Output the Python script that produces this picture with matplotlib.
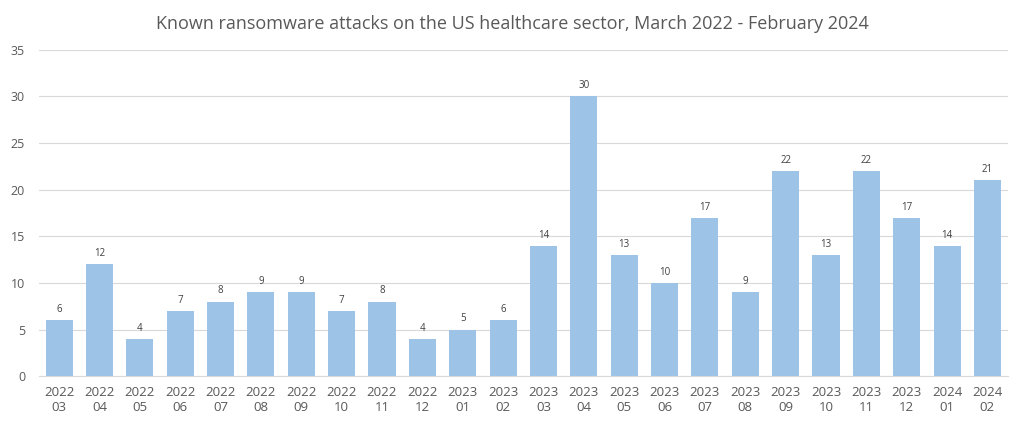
import matplotlib.pyplot as plt

# monthly counts
years = ['2022'] * 10 + ['2023'] * 12 + ['2024'] * 2
months = ['03', '04', '05', '06', '07', '08', '09', '10', '11', '12',
          '01', '02', '03', '04', '05', '06', '07', '08', '09', '10', '11', '12',
          '01', '02']
attacks = [6, 12, 4, 7, 8, 9, 9, 7, 8, 4, 5, 6, 14, 30, 13, 10, 17, 9, 22, 13, 22, 17, 14, 21]

labels = [y + '\n' + m for y, m in zip(years, months)]

plt.rcParams['font.family'] = ['Open Sans', 'DejaVu Sans']

fig = plt.figure(figsize=(10.24, 4.26), dpi=100)
ax = fig.add_axes([0.038, 0.117, 0.946, 0.766])

x = range(len(attacks))
bars = ax.bar(x, attacks, width=0.67, color='#9DC3E6', zorder=2)
for i, v in zip(x, attacks):
    ax.text(i, v + 0.55, str(v), ha='center', va='bottom', fontsize=7, color='#404040')

ax.set_ylim(0, 35)
ax.set_xlim(-0.5, len(attacks) - 0.5)
ax.set_yticks(range(0, 36, 5))
ax.set_xticks(list(x))
ax.set_xticklabels(labels, fontsize=9.5, color='#595959', linespacing=1.25)
ax.tick_params(axis='y', labelsize=9, labelcolor='#595959', length=0, pad=10)
ax.tick_params(axis='x', length=0, pad=7)
ax.grid(axis='y', color='#D9D9D9', linewidth=0.8, zorder=0)
for s in ['top', 'right', 'left']:
    ax.spines[s].set_visible(False)
ax.spines['bottom'].set_color('#D9D9D9')

fig.suptitle('Known ransomware attacks on the US healthcare sector, March 2022 - February 2024',
             y=0.965, fontsize=13, color='#595959')

plt.savefig('out.png', dpi=100)
